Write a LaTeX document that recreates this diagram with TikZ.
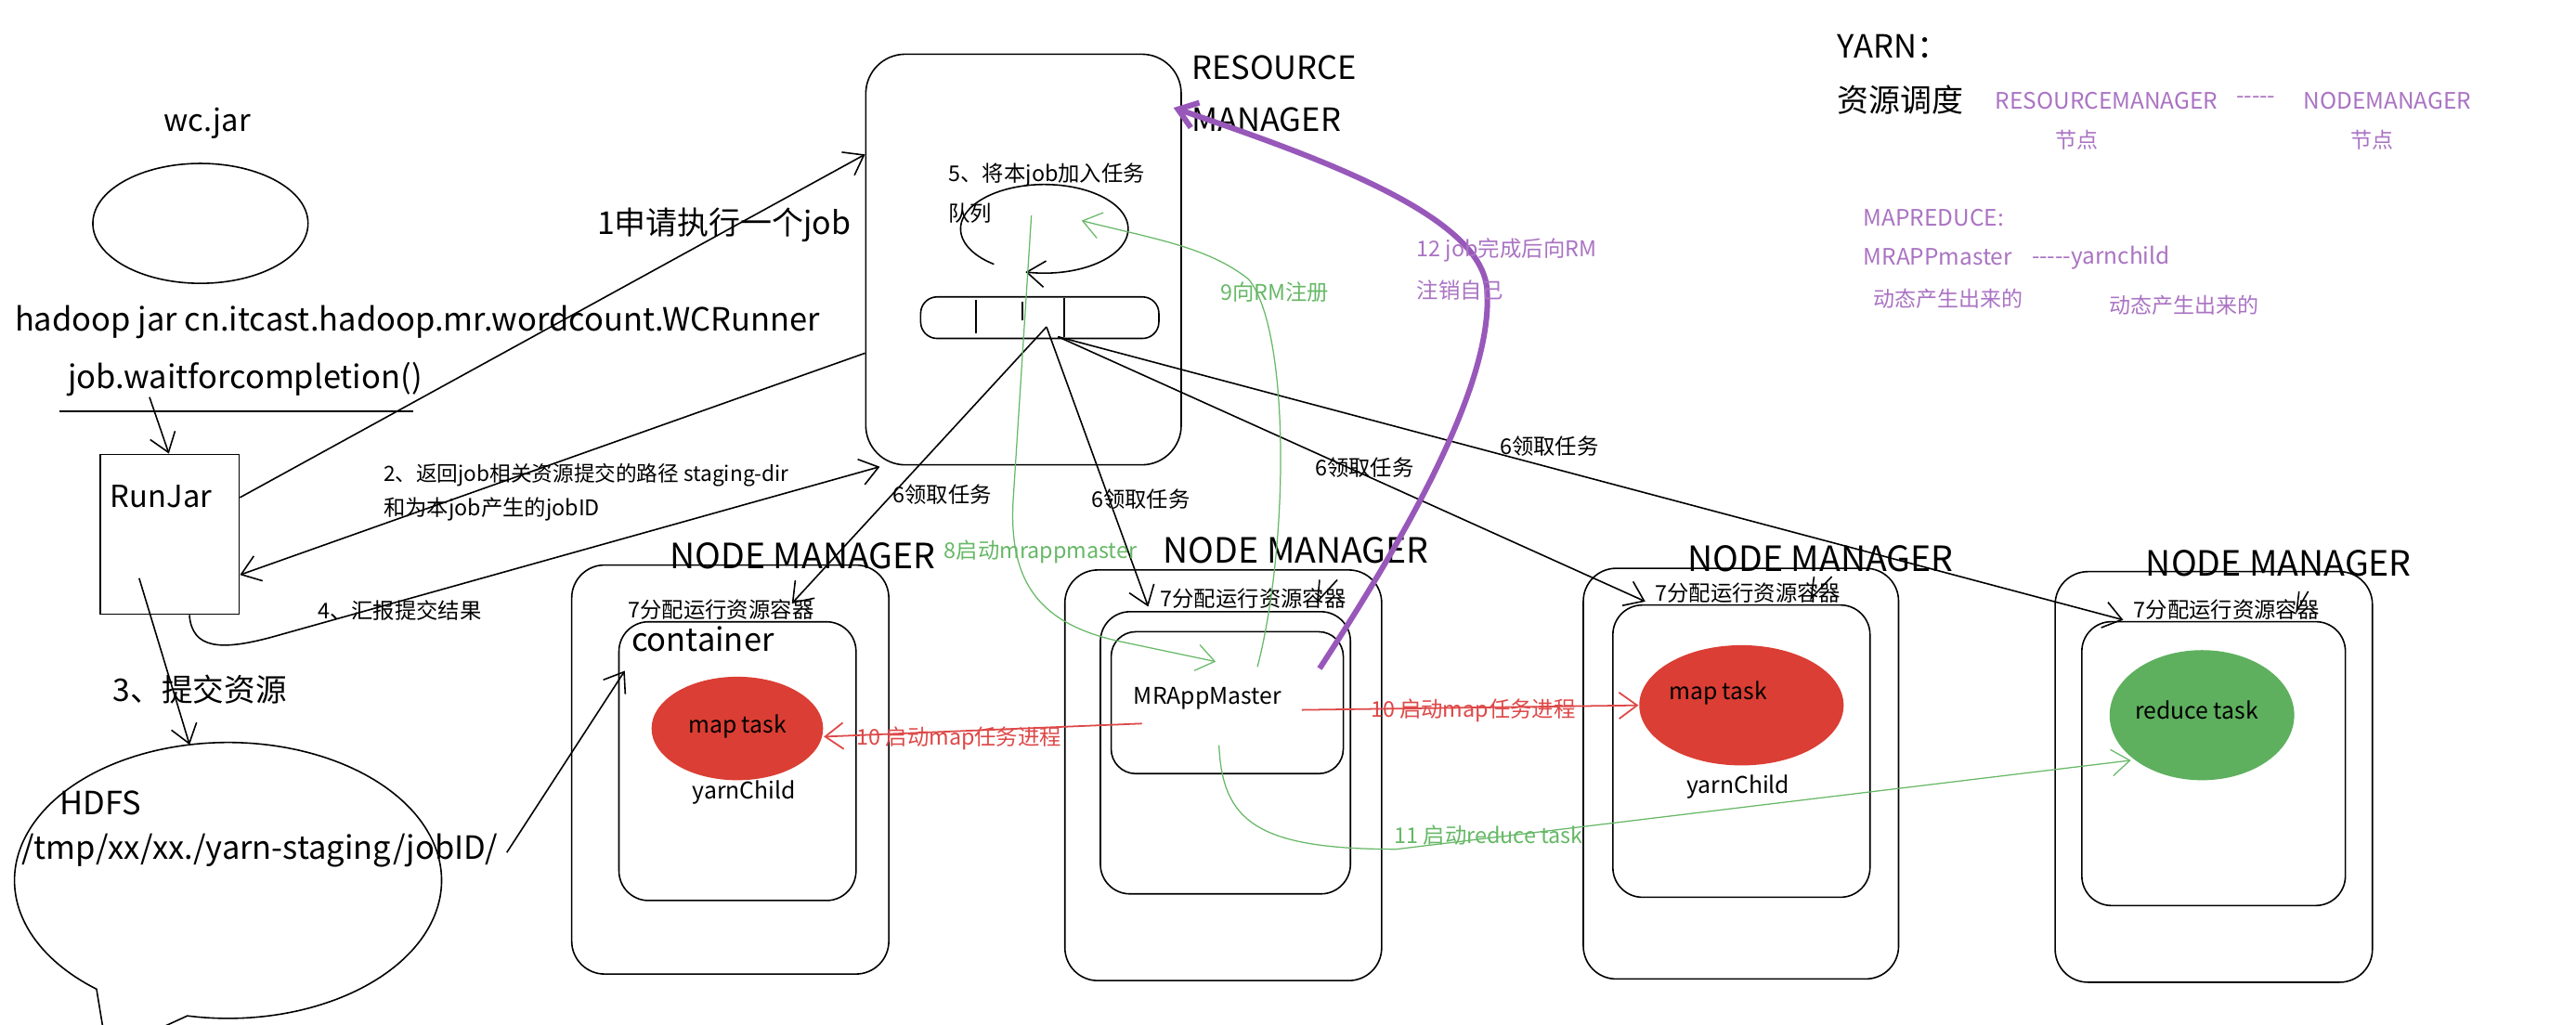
\documentclass[tikz,border=0pt]{standalone}
\usepackage{fontspec}
\setmainfont{Noto Sans CJK SC}
\usetikzlibrary{arrows.meta}
\usetikzlibrary{shapes.geometric}

\definecolor{mapred}{RGB}{219,62,52}
\definecolor{redline}{RGB}{222,72,72}
\definecolor{grnline}{RGB}{102,184,102}
\definecolor{grnfill}{RGB}{94,176,94}
\definecolor{purp}{RGB}{152,88,186}
\definecolor{lpurp}{RGB}{170,115,195}

\begin{document}
\begin{tikzpicture}
[x=1pt,y=-1pt,line width=0.9pt,%
  every node/.style={inner sep=0pt,anchor=west},%
  big/.style={font=\fontsize{19.5}{23}\selectfont},%
  bigsm/.style={font=\fontsize{18.5}{22}\selectfont},%
  nmfont/.style={font=\fontsize{21.2}{25}\selectfont},%
  bigzh/.style={font=\fontsize{19.2}{23}\selectfont},%
  mid/.style={font=\fontsize{14}{17}\selectfont},%
  small/.style={font=\fontsize{13.2}{16}\selectfont},%
  leg/.style={font=\fontsize{13.8}{17}\selectfont,lpurp},%
  legzh/.style={font=\fontsize{13}{16}\selectfont,lpurp},%
  box/.style={draw,anchor=center,rounded corners=#1},%
  box/.default=20,%
  blob/.style={ellipse,anchor=center},%
  arr/.style={-{Straight Barb[length=11pt,width=16pt]}},%
  grn/.style={grnline,line width=0.7pt},%
  redl/.style={redline,line width=1pt}]
\useasboundingbox (0,0) rectangle (1568,624);
\fill[white] (0,0) rectangle (1568,624);
\clip (0,0) rectangle (1568,624);

% client side
\node[bigsm] (wctxt) at (99.5,75) {wc.jar};
\node[blob,draw,minimum width=131,minimum height=73] (wc) at (122,136) {};
\node[big] (cmd) at (8.6,196) {hadoop jar cn.itcast.hadoop.mr.wordcount.WCRunner};
\node[big] (wait) at (41,231) {job.waitforcompletion()};
\draw (36,250.4) -- (251.7,250.4);
\node[draw,anchor=center,minimum width=84.6,minimum height=97.4] (rj) at (103.3,325.3) {};
\node[bigsm] (rjtxt) at (66.8,302) {RunJar};
\node[bigzh] (t1) at (363,137) {1申请执行一个job};
\node[small,font=\fontsize{12.8}{16}\selectfont] (t2a) at (233,289) {2、返回job相关资源提交的路径 staging-dir};
\node[small] (t2b) at (233,310) {和为本job产生的jobID};
\node[bigzh,font=\fontsize{19}{23}\selectfont] (t3) at (68.5,420) {3、提交资源};
\node[small] (t4) at (193,371.4) {4、汇报提交结果};

% hdfs
\draw (64,634) -- plot[domain=-232:101,samples=90,smooth] ({138.8+130*cos(\x)},{536+84*sin(\x)}) -- (80,634);
\coordinate (hdfstop) at (115.4,453.4);
\node[big] (hdfs) at (36,489) {HDFS};
\node[big] (tmp) at (12.6,518) {/tmp/xx/xx./yarn-staging/jobID/};

% resource manager
\node[box=24,minimum width=192,minimum height=250] (rm) at (623,158) {};
\node[big] (rmt1) at (725,41) {RESOURCE};
\node[big] (rmt2) at (725,73) {MANAGER};
\node[small] (t5a) at (577,106.5) {5、将本job加入任务};
\node[small] (t5b) at (577,130) {队列};
\node[box=10,minimum width=145,minimum height=25.3] (q) at (632.9,193.4) {};
\draw (594.2,182.7) -- (594.2,203);
\draw (622.4,183.7) -- (622.4,195);
\draw (647.6,181.7) -- (647.6,205);
\draw[arr] plot[domain=127:463,samples=60,smooth] ({635.7+51*cos(\x)},{139.3+27*sin(\x)});
\coordinate (qa) at (637,199);
\coordinate (qb) at (644,205);
\coordinate (g8s) at (627.8,131.2);
\coordinate (g9e) at (658.4,134.3);

% node manager 1
\node[box=20,minimum width=193,minimum height=249] (nm1) at (444.5,468.5) {};
\node[box=18,minimum width=144.3,minimum height=169.7] (c1) at (448.9,463.4) {};
\node[nmfont] (nm1t) at (407.4,338.5) {NODE MANAGER};
\node[small] (a1) at (382,371.4) {7分配运行资源容器};
\node[big] (ctn) at (384,389) {container};
\node[blob,fill=mapred,minimum width=104.4,minimum height=63] (m1) at (448.8,443.5) {};
\node[mid,anchor=center] (m1t) at (448.8,442.5) {map task};
\node[mid,anchor=center] (y1) at (453,482.2) {yarnChild};

% node manager 2
\node[box=20,minimum width=192.8,minimum height=250] (nm2) at (744.6,472) {};
\node[box=18,minimum width=152.2,minimum height=171.8] (c2) at (745.9,458.3) {};
\node[box=15,minimum width=141.3,minimum height=86.4] (am) at (747,427.8) {};
\node[nmfont] (nm2t) at (707.7,335) {NODE MANAGER};
\node[small] (a2) at (705.9,364.3) {7分配运行资源容器};
\node[mid] (amt) at (689.7,425.2) {MRAppMaster};
\draw (803.2,353) -- (802,366) -- (814,353);

% node manager 3
\node[box=20,minimum width=191.9,minimum height=250] (nm3) at (1059.7,471) {};
\node[box=18,minimum width=156.5,minimum height=177.9] (c3) at (1060,457.3) {};
\node[nmfont] (nm3t) at (1027,340) {NODE MANAGER};
\node[small] (a3) at (1007,361.2) {7分配运行资源容器};
\node[blob,fill=mapred,minimum width=124.4,minimum height=73.2] (m3) at (1060,429.4) {};
\node[mid,anchor=center] (m3t) at (1045.7,422.2) {map task};
\node[mid,anchor=center] (y3) at (1058,479.1) {yarnChild};
\draw (1104.2,351) -- (1102.4,364.3) -- (1115,351);

% node manager 4
\node[box=20,minimum width=193.1,minimum height=250] (nm4) at (1347.5,473) {};
\node[box=18,minimum width=160.4,minimum height=172.8] (c4) at (1347.4,464.9) {};
\node[nmfont] (nm4t) at (1305.8,343) {NODE MANAGER};
\node[small] (a4) at (1298.4,371.4) {7分配运行资源容器};
\node[blob,fill=grnfill,minimum width=112.4,minimum height=79.2] (rd) at (1340.3,435.4) {};
\node[mid,anchor=center] (rdt) at (1337,432.4) {reduce task};
\draw (1399.4,360) -- (1398,372) -- (1405,360);

% black connectors
\draw[arr] ([xshift=50pt]wait.south west) -- ([xshift=-0.5pt]rj.north);
\draw[arr] ([yshift=22.4pt]rj.east) -- ([yshift=64pt]rm.west);
\draw[arr] ([yshift=-57pt]rm.west) -- ([yshift=-24.7pt]rj.east);
\draw[arr] ([xshift=-18.6pt,yshift=-26.7pt]rj.center) -- (hdfstop);
\draw[arr] ([xshift=12pt]rj.south) .. controls +(1.6,21) and +(-30,8) .. (165,388) -- ([xshift=9pt,yshift=-0.7pt]rm.south west);
\draw[arr] ([xshift=5pt,yshift=-1pt]tmp.east) -- ([xshift=4pt,yshift=55pt]c1.west);
\draw[arr] (qa) -- ([xshift=100pt,yshift=4pt]a1.west);
\draw[arr] (qa) -- ([xshift=-7pt,yshift=-5pt]a2.west);
\draw[arr] (qb) -- ([xshift=-5.5pt,yshift=-5pt]a3.west);
\draw[arr] (qb) -- ([xshift=-6pt,yshift=-6pt]a4.west);
\node[small] (l6a) at (543,300.8) {6领取任务};
\node[small] (l6b) at (663.8,303.9) {6领取任务};
\node[small] (l6c) at (800,284.7) {6领取任务};
\node[small] (l6d) at (912.6,271.5) {6领取任务};

% red
\draw[redl,arr] ([xshift=12pt,yshift=-7pt]amt.east) -- (m3.west);
\draw[redl,arr] ([xshift=5.4pt,yshift=-15.3pt]amt.west) -- ([yshift=-5pt]m1.east);
\node[small,redline] (r10a) at (521,449.3) {10 启动map任务进程};
\node[small,redline] (r10b) at (833.9,432.4) {10 启动map任务进程};

% green
\draw[grn,arr] (g8s) -- (617,300) .. controls (613,352) and (630,380) .. (684,391) -- ([xshift=-7pt,yshift=25pt]am.center);
\draw[grn,arr] ([xshift=18.4pt,yshift=21.8pt]am.center) .. controls (785,330) and (785,200) .. (760,170) .. controls (735,150) and (700,145) .. (g9e);
\draw[grn,arr] ([xshift=-5pt,yshift=-25.9pt]am.center) .. controls (744,500) and (765,517) .. (850,517) -- ([xshift=-43.3pt,yshift=-27.5pt]rd.center);
\node[small,grnline] (g8) at (574.3,335.8) {8启动mrappmaster};
\node[small,grnline] (g9) at (742.4,177.7) {9向RM注册};
\node[small,grnline] (g11) at (848.3,508.6) {11 启动reduce task};

% purple
\draw[purp,line width=3.4pt,arr] ([xshift=56.2pt,yshift=20.8pt]am.center) .. controls (860,320) and (910,230) .. (905,175) .. controls (900,130) and (800,95) .. ([xshift=91.3pt,yshift=92.4pt]rm.center);
\node[small,lpurp] (p12a) at (862,152.4) {12 job完成后向RM};
\node[small,lpurp] (p12b) at (862,176.7) {注销自己};

% legend
\node[big] (yarn) at (1118,28) {YARN：};
\node[bigzh] (sched) at (1118,61) {资源调度};
\node[leg] (lrm) at (1214.2,61.3) {RESOURCEMANAGER};
\node[leg] (ldash) at (1360.7,61) {-{}-{}-{}-{}-};
\node[leg] (lnm) at (1401.7,61.3) {NODEMANAGER};
\node[legzh] (lj1) at (1250.5,85) {节点};
\node[legzh] (lj2) at (1430.7,85) {节点};
\node[leg] (lmr) at (1133.9,132.5) {MAPREDUCE:};
\node[leg] (lam) at (1133.9,156.2) {MRAPPmaster};
\node[leg] (lyc) at (1236.3,157) {-{}-{}-{}-{}-yarnchild};
\node[legzh] (ld1) at (1140.2,182.1) {动态产生出来的};
\node[legzh] (ld2) at (1283.5,185.8) {动态产生出来的};
\end{tikzpicture}
\end{document}
